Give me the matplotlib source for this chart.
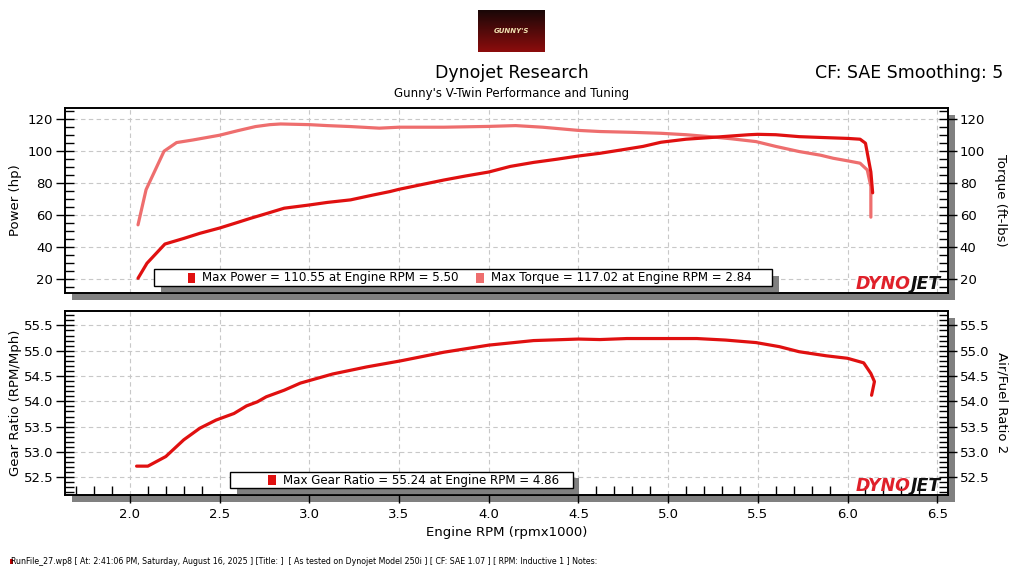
import numpy as np
import matplotlib
matplotlib.use("Agg")
import matplotlib.pyplot as plt
from matplotlib.patches import Rectangle
from matplotlib.ticker import MultipleLocator

# ---------------- data ----------------
rpm_power = [2.045, 2.095, 2.195, 2.30, 2.39, 2.50, 2.60, 2.67, 2.76, 2.86, 3.00, 3.10, 3.23, 3.35,
             3.45, 3.50, 3.62, 3.75, 3.87, 4.00, 4.12, 4.25, 4.38, 4.50, 4.62, 4.75, 4.86, 4.96,
             5.10, 5.23, 5.35, 5.45, 5.50, 5.60, 5.73, 5.85, 6.00, 6.07, 6.10, 6.13, 6.14]
power_hp = [20.6, 30.0, 42.0, 45.5, 48.7, 52.0, 55.5, 58.0, 61.0, 64.4, 66.4, 68.0, 69.6, 72.5,
            74.8, 76.2, 79.0, 82.0, 84.5, 87.0, 90.5, 93.0, 95.0, 97.0, 98.7, 101.0, 103.0, 105.6,
            107.5, 108.5, 109.5, 110.3, 110.55, 110.3, 109.1, 108.6, 108.0, 107.5, 105.0, 87.0, 74.0]

rpm_torque = [2.045, 2.09, 2.19, 2.26, 2.35, 2.50, 2.60, 2.70, 2.78, 2.84, 3.00, 3.10, 3.23, 3.39,
              3.50, 3.75, 4.00, 4.15, 4.30, 4.50, 4.62, 4.80, 4.96, 5.10, 5.23, 5.35, 5.49, 5.60,
              5.73, 5.85, 5.92, 6.00, 6.07, 6.11, 6.13, 6.13]
torque_ftlb = [54.0, 76.0, 100.0, 105.4, 107.0, 110.0, 112.8, 115.4, 116.6, 117.02, 116.6, 116.0,
               115.4, 114.4, 115.0, 115.0, 115.5, 116.0, 115.0, 113.0, 112.3, 111.8, 111.2, 110.3,
               109.1, 107.8, 106.0, 103.0, 99.8, 97.5, 95.6, 94.0, 92.5, 88.3, 78.0, 58.8]

rpm_gear = [2.037, 2.10, 2.20, 2.30, 2.39, 2.48, 2.58, 2.65, 2.71, 2.76, 2.86, 2.95, 3.04, 3.13,
            3.32, 3.51, 3.75, 4.00, 4.25, 4.50, 4.62, 4.77, 4.86, 5.00, 5.16, 5.32, 5.49, 5.62,
            5.73, 5.88, 6.00, 6.09, 6.13, 6.15, 6.134]
gear_ratio = [52.72, 52.72, 52.91, 53.24, 53.47, 53.63, 53.76, 53.91, 53.99, 54.09, 54.22, 54.36,
              54.45, 54.54, 54.68, 54.80, 54.97, 55.11, 55.20, 55.23, 55.22, 55.24, 55.24, 55.24,
              55.24, 55.21, 55.16, 55.08, 54.98, 54.90, 54.85, 54.76, 54.55, 54.39, 54.12]

power_ticks = [20, 40, 60, 80, 100, 120]
gear_ticks = [52.5, 53.0, 53.5, 54.0, 54.5, 55.0, 55.5]
rpm_ticks = [2.0, 2.5, 3.0, 3.5, 4.0, 4.5, 5.0, 5.5, 6.0, 6.5]

legend_top = ["Max Power = 110.55 at Engine RPM = 5.50", "Max Torque = 117.02 at Engine RPM = 2.84"]
legend_bottom = "Max Gear Ratio = 55.24 at Engine RPM = 4.86"
footer = ("RunFile_27.wp8 [ At: 2:41:06 PM, Saturday, August 16, 2025 ] [Title: ]  "
          "[ As tested on Dynojet Model 250i ] [ CF: SAE 1.07 ] [ RPM: Inductive 1 ] Notes:")

# ---------------- style ----------------
plt.rcParams['font.family'] = ['DejaVu Sans']
DARK_RED = '#e01010'
LIGHT_RED = '#ee6e6e'
GRID = '#c8c8c8'
SHADOW = '#808080'

W, H = 1024, 576
fig = plt.figure(figsize=(W / 100, H / 100), dpi=100)
fig.patch.set_facecolor('white')


def fx(px):
    return px / W


def fy(py):
    return 1 - py / H


AX_L, AX_R = 65, 948
TOP_T, TOP_B = 108, 293
BOT_T, BOT_B = 310.7, 495

# shadows behind axes
for t, b in [(TOP_T, TOP_B), (BOT_T, BOT_B)]:
    fig.add_artist(Rectangle((fx(AX_L + 7), fy(b + 7)), fx(AX_R - AX_L), (b - t) / H,
                             transform=fig.transFigure, facecolor=SHADOW, edgecolor='none', zorder=0))

ax1 = fig.add_axes([fx(AX_L), fy(TOP_B), fx(AX_R - AX_L), (TOP_B - TOP_T) / H], zorder=2)
ax2 = fig.add_axes([fx(AX_L), fy(BOT_B), fx(AX_R - AX_L), (BOT_B - BOT_T) / H], zorder=2)

XLIM = (1.638, 6.56)


def style_axes(ax, yt, ylim, ymin_step, xlabels):
    ax.set_xlim(*XLIM)
    ax.set_ylim(*ylim)
    ax.set_facecolor('white')
    for s in ax.spines.values():
        s.set_linewidth(1.2)
        s.set_color('black')
    ax.set_xticks(rpm_ticks)
    ax.set_yticks(yt)
    ax.yaxis.set_minor_locator(MultipleLocator(ymin_step))
    ax.grid(True, which='major', color=GRID, linestyle=(0, (4, 3)), linewidth=0.8)
    ax.tick_params(axis='y', which='major', direction='inout', length=13, width=1, labelsize=9.5, pad=2)
    ax.tick_params(axis='y', which='minor', direction='in', length=6.5, width=1)
    if xlabels:
        ax.xaxis.set_minor_locator(MultipleLocator(0.1))
        ax.tick_params(axis='x', which='major', direction='out', length=6, width=1, labelsize=9.5, pad=3)
        ax.tick_params(axis='x', which='minor', direction='in', length=6.5, width=1)
    else:
        ax.tick_params(axis='x', which='both', length=0, labelbottom=False)
    ax.set_axisbelow(True)


style_axes(ax1, power_ticks, (11.4, 127), 5, False)
style_axes(ax2, gear_ticks, (52.15, 55.79), 0.1, True)
ax2.set_xticklabels([f"{v:.1f}" for v in rpm_ticks])
ax2.set_yticklabels([f"{v:.1f}" for v in gear_ticks])

# right twin axes (tick mirrors)
for ax, yt, step, fmt in [(ax1, power_ticks, 5, "{:.0f}"), (ax2, gear_ticks, 0.1, "{:.1f}")]:
    r = ax.twinx()
    r.set_ylim(ax.get_ylim())
    r.set_yticks(yt)
    r.set_yticklabels([fmt.format(v) for v in yt])
    r.yaxis.set_minor_locator(MultipleLocator(step))
    r.tick_params(axis='y', which='major', direction='inout', length=13, width=1, labelsize=9.5, pad=2)
    r.tick_params(axis='y', which='minor', direction='in', length=6.5, width=1)
    for s in r.spines.values():
        s.set_linewidth(1.2)
    ax.right_ax = r

# curves
ax1.plot(rpm_torque, torque_ftlb, color=LIGHT_RED, linewidth=2.3, solid_capstyle='round', zorder=3)
ax1.plot(rpm_power, power_hp, color=DARK_RED, linewidth=2.3, solid_capstyle='round', zorder=4)
ax2.plot(rpm_gear, gear_ratio, color=DARK_RED, linewidth=2.3, solid_capstyle='round', zorder=4)

# axis labels
ax1.set_ylabel("Power (hp)", fontsize=9.5, labelpad=4)
ax1.right_ax.set_ylabel("Torque (ft-lbs)", fontsize=9.5, rotation=270, labelpad=16)
ax2.set_ylabel("Gear Ratio (RPM/Mph)", fontsize=9.5, labelpad=1)
ax2.right_ax.set_ylabel("Air/Fuel Ratio 2", fontsize=9.5, rotation=270, labelpad=14)
ax2.set_xlabel("Engine RPM (rpmx1000)", fontsize=9.5, labelpad=4)


# legend boxes
def legend_box(ax, x0, x1, y0, y1, entries):
    hpx = ax.get_position().height * H
    dx = 6.5 / (AX_R - AX_L)
    dy = 6.5 / hpx
    ax.add_patch(Rectangle((x0 + dx, 0), x1 - x0, y1 - dy, transform=ax.transAxes,
                           facecolor=SHADOW, edgecolor='none', zorder=5))
    ax.add_patch(Rectangle((x0, y0), x1 - x0, y1 - y0, transform=ax.transAxes,
                           facecolor='white', edgecolor='black', linewidth=1.0, zorder=6))
    ym = (y0 + y1) / 2
    for xs, color, label in entries:
        ax.add_patch(Rectangle((xs, ym - 0.027), 0.0085, 0.054, transform=ax.transAxes,
                               facecolor=color, edgecolor='none', zorder=7))
        ax.text(xs + 0.0165, ym, label, transform=ax.transAxes, fontsize=8.6, va='center', ha='left', zorder=7)


legend_box(ax1, 0.101, 0.801, 0.038, 0.128,
           [(0.139, DARK_RED, legend_top[0]), (0.466, LIGHT_RED, legend_top[1])])
legend_box(ax2, 0.187, 0.575, 0.036, 0.126,
           [(0.230, DARK_RED, legend_bottom)])


# Dynojet logos
def dynojet(ax):
    xm = (911 - AX_L) / (AX_R - AX_L)
    ax.text(xm, 0.0, "DYNO", transform=ax.transAxes, fontsize=12.5, fontweight='heavy',
            style='italic', color='#e0202a', ha='right', va='bottom', zorder=8)
    ax.text(xm, 0.0, "JET", transform=ax.transAxes, fontsize=12.5, fontweight='heavy',
            style='italic', color='#111111', ha='left', va='bottom', zorder=8)


dynojet(ax1)
dynojet(ax2)

# header
fig.text(0.5, fy(73), "Dynojet Research", fontsize=12.5, ha='center', va='center')
fig.text(fx(1003), fy(73), "CF: SAE Smoothing: 5", fontsize=12.5, ha='right', va='center')
fig.text(0.5, fy(93), "Gunny's V-Twin Performance and Tuning", fontsize=8.5, ha='center', va='center')

# Gunny's logo
lax = fig.add_axes([fx(478), fy(52), fx(67), 42 / H])
grad = np.linspace(0, 1, 64).reshape(-1, 1)
cols = np.zeros((64, 1, 3))
cols[:, 0, 0] = 0.10 + 0.45 * grad[:, 0]
cols[:, 0, 1] = 0.03 + 0.02 * grad[:, 0]
cols[:, 0, 2] = 0.03 + 0.02 * grad[:, 0]
lax.imshow(cols, aspect='auto', extent=(0, 1, 0, 1), origin='upper')
lax.text(0.5, 0.5, "GUNNY'S", fontsize=5, fontweight='bold', style='italic', color='#f0e0b0',
         ha='center', va='center')
lax.set_axis_off()

# footer
fig.add_artist(Rectangle((fx(10), fy(564)), fx(3), 5 / H, transform=fig.transFigure,
                         facecolor='#d00000', edgecolor='none'))
fig.text(fx(11), fy(561), footer, fontsize=5.65, ha='left', va='center')

fig.savefig("out.png", dpi=100, facecolor='white')
